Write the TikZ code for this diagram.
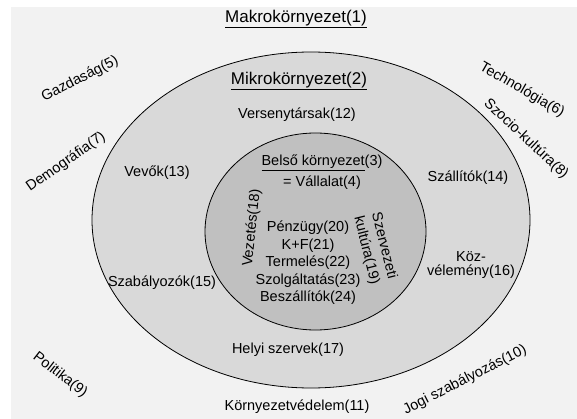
\documentclass[tikz,border=0pt]{standalone}
\usepackage{fontspec}
\setmainfont{Liberation Sans}
\definecolor{bgcol}{HTML}{F2F2F2}
\definecolor{outercol}{HTML}{D9D9D9}
\definecolor{innercol}{HTML}{C0C0C0}
\begin{document}
\begin{tikzpicture}[x=1pt,y=-1pt,
  lbl/.style={font=\fontsize{14.5}{16}\selectfont, inner sep=0pt, align=center},
  tight/.style={font=\fontsize{14.5}{13.5}\selectfont, inner sep=0pt, align=center},
  head/.style={font=\fontsize{17}{19}\selectfont, inner sep=0pt},
  ring/.style={draw=black, line width=0.8pt}]
\useasboundingbox (0,0) rectangle (577,419);
\fill[white] (0,0) rectangle (577,419);
\fill[bgcol] (11,7) rectangle (577,419);
\draw[ring, fill=outercol] (311,220) ellipse [x radius=219pt, y radius=168pt];
\draw[ring, fill=innercol] (315.5,231.5) ellipse [x radius=110.5pt, y radius=98.5pt];
% headings
\node[head] (makro) at (296,19) {\underline{Makrokörnyezet(1)}};
\node[head] (mikro) at (299,81) {\underline{Mikrokörnyezet(2)}};
% macro factors
\node[lbl, rotate=27] (gazd) at (80,79) {Gazdaság(5)};
\node[lbl, rotate=-30] (tech) at (522,90) {Technológia(6)};
\node[lbl, rotate=35] (demo) at (66,162) {Demográfia(7)};
\node[lbl, rotate=-43] (szoc) at (526,139) {Szocio-kultúra(8)};
\node[lbl, rotate=-38] (pol) at (60,375) {Politika(9)};
\node[lbl, rotate=27] (jogi) at (465,380) {Jogi szabályozás(10)};
\node[lbl] (korny) at (297,407) {Környezetvédelem(11)};
% micro factors
\node[lbl] (verseny) at (297,115) {Versenytársak(12)};
\node[lbl] (vevok) at (157,173) {Vevők(13)};
\node[lbl] (szall) at (468,178) {Szállítók(14)};
\node[lbl] (szab) at (162,283) {Szabályozók(15)};
\node[tight] (kozv) at (471,265) {Köz-\\vélemény(16)};
\node[lbl] (helyi) at (288,350) {Helyi szervek(17)};
% inner
\node[lbl] (belso) at (322,163) {\underline{Belső környezet}(3)};
\node[lbl] (vall) at (322,183) {= Vállalat(4)};
\node[lbl, rotate=84] (vez) at (252,228) {Vezetés(18)};
\node[font=\fontsize{14.5}{18}\selectfont, inner sep=0pt, align=center, rotate=-76] (szerv) at (375,248) {Szervezeti\\kultúra(19)};
\node[font=\fontsize{14.5}{17.5}\selectfont, inner sep=0pt, align=center] (funk) at (308,263) {Pénzügy(20)\\K+F(21)\\Termelés(22)\\Szolgáltatás(23)\\Beszállítók(24)};
\end{tikzpicture}
\end{document}
